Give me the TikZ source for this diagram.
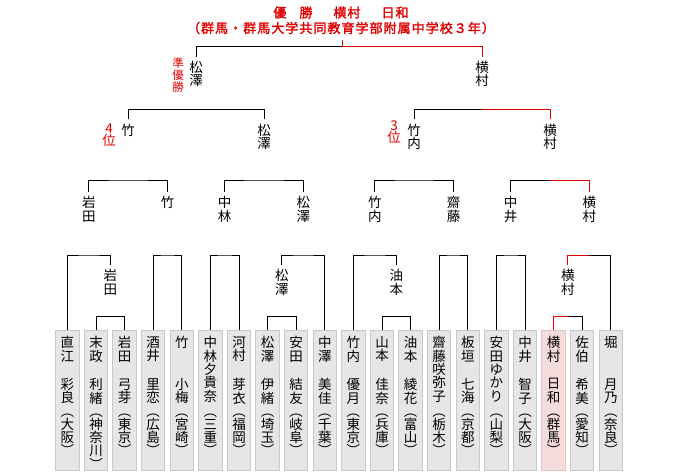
\documentclass[tikz,border=0pt]{standalone}
\usepackage{fontspec}
\newfontfamily\cjk{Noto Sans CJK JP}
\newfontfamily\cjkt[FakeBold=2,LetterSpace=8]{Noto Sans CJK JP}
\definecolor{tred}{HTML}{E00000}
\definecolor{boxfill}{HTML}{E6E6E6}
\definecolor{boxline}{HTML}{C8C8C8}
\definecolor{winfill}{HTML}{F4DCDC}
\definecolor{winline}{HTML}{E2C4C4}
\ExplSyntaxOn
\seq_new:N \l_vstk_seq
\NewDocumentCommand \vstk { m }
 {
  \seq_clear:N \l_vstk_seq
  \tl_map_inline:nn { #1 } { \seq_put_right:Nn \l_vstk_seq { ##1 } }
  \seq_use:Nn \l_vstk_seq { \\ }
 }
\ExplSyntaxOff
\newcommand\entrant[5]{%
  \node[#2] (b#1) at (67.4+28.6*#1,330) {};
  \node[nm] (sn#1) at (67.4+28.6*#1,336) {\vstk{#3}};
  \node[nm] (gn#1) at (67.4+28.6*#1,378) {\vstk{#4}};
  \node[nm] (pf#1) at (67.4+28.6*#1,413) {\vstk{︵#5︶}};
}
\begin{document}
\begin{tikzpicture}[x=1pt,y=-1pt,line width=1pt,
  ln/.style={draw=black,line width=1pt},
  rln/.style={draw=tred,line width=1pt},
  nm/.style={anchor=north,inner sep=0pt,align=center,font=\cjk\fontsize{13.5}{13.3}\selectfont},
  lbl/.style={anchor=north,inner xsep=0pt,inner ysep=4pt,align=center,font=\cjk\fontsize{13.5}{13.3}\selectfont},
  rlbl/.style={anchor=north,inner sep=0pt,align=center,text=tred,font=\cjk\fontsize{13.5}{12}\selectfont},
  pbox/.style={draw=boxline,fill=boxfill,minimum width=23.3pt,minimum height=140pt,anchor=north,inner sep=0pt,line width=1pt},
  wbox/.style={pbox,draw=winline,fill=winfill}]
\useasboundingbox (0,0) rectangle (680,474);

% title
\node[text=tred,inner sep=0pt,font=\cjkt\fontsize{13}{14}\selectfont] (t1) at (341,12.5) {優\hspace{13pt}勝\hspace{21pt}横村\hspace{21pt}日和};
\node[text=tred,inner xsep=0pt,inner ysep=5pt,font=\cjkt\fontsize{13}{14}\selectfont] (t2) at (341,28) {（群馬・群馬大学共同教育学部附属中学校３年）};

% entrants
\entrant{0}{pbox}{直江}{彩良}{大阪}
\entrant{1}{pbox}{末政}{利緒}{神奈川}
\entrant{2}{pbox}{岩田}{弓芽}{東京}
\entrant{3}{pbox}{酒井}{里恋}{広島}
\entrant{4}{pbox}{竹}{小梅}{宮崎}
\entrant{5}{pbox}{中林夕貴奈}{}{三重}
\entrant{6}{pbox}{河村}{芽衣}{福岡}
\entrant{7}{pbox}{松澤}{伊緒}{埼玉}
\entrant{8}{pbox}{安田}{結友}{岐阜}
\entrant{9}{pbox}{中澤}{美佳}{千葉}
\entrant{10}{pbox}{竹内}{優月}{東京}
\entrant{11}{pbox}{山本}{佳奈}{兵庫}
\entrant{12}{pbox}{油本}{綾花}{富山}
\entrant{13}{pbox}{齋藤咲弥子}{}{栃木}
\entrant{14}{pbox}{板垣}{七海}{京都}
\entrant{15}{pbox}{安田ゆかり}{}{山梨}
\entrant{16}{pbox}{中井}{智子}{大阪}
\entrant{17}{wbox}{横村}{日和}{群馬}
\entrant{18}{pbox}{佐伯}{希美}{愛知}
\entrant{19}{pbox}{堀}{月乃}{奈良}

% level-1 winners
\node[lbl] (r1a) at (110.3,265) {\vstk{岩田}};
\node[lbl] (r1b) at (281.9,265) {\vstk{松澤}};
\node[lbl] (r1c) at (396.3,265) {\vstk{油本}};
\node[lbl] (r1d) at (567.9,265) {\vstk{横村}};
% level-2
\node[lbl] (q1) at (88.85,192) {\vstk{岩田}};
\node[lbl] (q2) at (167.5,192) {\vstk{竹}};
\node[lbl] (q3) at (224.7,192) {\vstk{中林}};
\node[lbl] (q4) at (303.35,192) {\vstk{松澤}};
\node[lbl] (q5) at (374.85,192) {\vstk{竹内}};
\node[lbl] (q6) at (453.5,192) {\vstk{齋藤}};
\node[lbl] (q7) at (510.7,192) {\vstk{中井}};
\node[lbl] (q8) at (589.35,192) {\vstk{横村}};
% level-3
\node[lbl] (s1) at (128.2,119.3) {\vstk{竹}};
\node[lbl] (s2) at (264,119.3) {\vstk{松澤}};
\node[lbl] (s3) at (414.2,119.3) {\vstk{竹内}};
\node[lbl] (s4) at (550,119.3) {\vstk{横村}};
% finalists
\node[lbl] (f1) at (196.1,56.7) {\vstk{松澤}};
\node[lbl] (f2) at (482.1,56.7) {\vstk{横村}};
% red remarks
\node[rlbl,font=\cjk\fontsize{11.5}{12}\selectfont] (k1) at (178,57) {\vstk{準優勝}};
\node[rlbl] (k2) at (109,123) {4\\位};
\node[rlbl] (k3) at (394,120) {3\\位};

% coordinates
\coordinate (p12) at (110.3,316.7);
\coordinate (p78) at (281.9,316.7);
\coordinate (p1112) at (396.3,316.7);
\coordinate (p1718) at (567.9,316.7);
\coordinate (m1) at (88.85,255);
\coordinate (m2) at (167.5,255);
\coordinate (m3) at (224.7,255);
\coordinate (m4) at (303.35,255);
\coordinate (m5) at (374.85,255);
\coordinate (m6) at (453.5,255);
\coordinate (m7) at (510.7,255);
\coordinate (m8) at (589.35,255);
\coordinate (n1) at (128.2,180);
\coordinate (n2) at (264,180);
\coordinate (n3) at (414.2,180);
\coordinate (n4) at (550,180);
\coordinate (o1) at (196.1,109.3);
\coordinate (o2) at (482.1,109.3);
\coordinate (fz) at (342,46.7);

% first pairs
\draw[ln] (b1.north) |- (p12) -| (b2.north);
\draw[ln] (b7.north) |- (p78) -| (b8.north);
\draw[ln] (b11.north) |- (p1112) -| (b12.north);
\draw[rln] (b17.north) |- (p1718);
\draw[ln] (p1718) -| (b18.north);
% level 1
\draw[ln] (b0.north) |- (m1) -| (r1a.north);
\draw[ln] (b3.north) |- (m2) -| (b4.north);
\draw[ln] (b5.north) |- (m3) -| (b6.north);
\draw[ln] (r1b.north) |- (m4) -| (b9.north);
\draw[ln] (b10.north) |- (m5) -| (r1c.north);
\draw[ln] (b13.north) |- (m6) -| (b14.north);
\draw[ln] (b15.north) |- (m7) -| (b16.north);
\draw[rln] (r1d.north) |- (m8);
\draw[ln] (m8) -| (b19.north);
% level 2
\draw[ln] (q1.north) |- (n1) -| (q2.north);
\draw[ln] (q3.north) |- (n2) -| (q4.north);
\draw[ln] (q5.north) |- (n3) -| (q6.north);
\draw[ln] (q7.north) |- (n4);
\draw[rln] (q8.north) |- (n4);
% level 3
\draw[ln] (s1.north) |- (o1) -| (s2.north);
\draw[ln] (s3.north) |- (o2);
\draw[rln] (s4.north) |- (o2);
% final
\draw[ln] (f1.north) |- (fz);
\draw[rln] (f2.north) |- (fz);
\draw[rln] (fz) -- (fz |- t2.south);
\end{tikzpicture}
\end{document}
